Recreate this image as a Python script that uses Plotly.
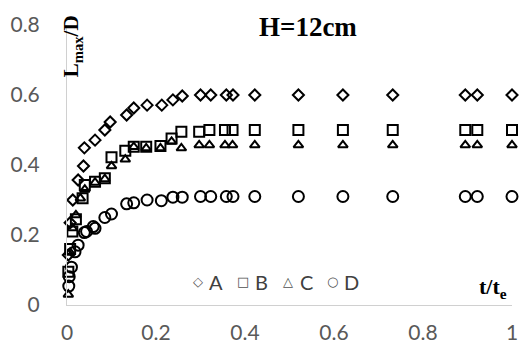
import plotly.graph_objects as go

# ---- data ----
x_A = [0.003, 0.007, 0.013, 0.025, 0.037, 0.039, 0.063, 0.085, 0.097, 0.134, 0.15, 0.18, 0.213, 0.238, 0.259,
       0.30, 0.323, 0.358, 0.373, 0.422, 0.52, 0.62, 0.732, 0.895, 0.922, 1.0]
y_A = [0.143, 0.235, 0.30, 0.357, 0.397, 0.449, 0.471, 0.50, 0.523, 0.543, 0.563, 0.571, 0.571, 0.586, 0.597,
       0.60, 0.60, 0.60, 0.60, 0.60, 0.60, 0.60, 0.60, 0.60, 0.60, 0.60]

x_B = [0.003, 0.007, 0.012, 0.02, 0.035, 0.04, 0.063, 0.085, 0.10, 0.131, 0.15, 0.178, 0.21, 0.235, 0.257,
       0.297, 0.32, 0.355, 0.372, 0.422, 0.52, 0.62, 0.732, 0.895, 0.922, 1.0]
y_B = [0.095, 0.16, 0.21, 0.245, 0.305, 0.343, 0.352, 0.362, 0.422, 0.441, 0.452, 0.452, 0.454, 0.476, 0.495,
       0.495, 0.50, 0.50, 0.50, 0.50, 0.50, 0.50, 0.50, 0.50, 0.50, 0.50]

x_C = [0.003, 0.007, 0.012, 0.02, 0.03, 0.04, 0.063, 0.085, 0.10, 0.131, 0.15, 0.178, 0.21, 0.235, 0.257,
       0.297, 0.32, 0.355, 0.372, 0.422, 0.52, 0.62, 0.732, 0.895, 0.922, 1.0]
y_C = [0.03, 0.15, 0.22, 0.257, 0.305, 0.33, 0.35, 0.36, 0.397, 0.416, 0.452, 0.448, 0.448, 0.467, 0.448,
       0.457, 0.457, 0.457, 0.457, 0.457, 0.457, 0.457, 0.457, 0.457, 0.457, 0.457]

x_D = [0.004, 0.005, 0.01, 0.018, 0.025, 0.039, 0.044, 0.059, 0.063, 0.085, 0.10, 0.134, 0.15, 0.18, 0.212,
       0.238, 0.259, 0.30, 0.323, 0.358, 0.373, 0.422, 0.52, 0.62, 0.732, 0.895, 0.922, 1.0]
y_D = [0.054, 0.081, 0.108, 0.152, 0.171, 0.207, 0.21, 0.224, 0.219, 0.25, 0.26, 0.289, 0.292, 0.30, 0.298,
       0.308, 0.308, 0.31, 0.31, 0.31, 0.31, 0.31, 0.31, 0.31, 0.31, 0.31, 0.31, 0.31]

series_names = ["A", "B", "C", "D"]
legend_glyphs = ["\u25C7", "\u25A1", "\u25B3", "\u25CB"]

series = [
    ("A", x_A, y_A, "diamond-open", 8.5),
    ("B", x_B, y_B, "square-open", 10),
    ("C", x_C, y_C, "triangle-up-open", 8.5),
    ("D", x_D, y_D, "circle-open", 11),
]

fig = go.Figure()
for name, xs, ys, sym, sz in series:
    fig.add_trace(go.Scatter(
        x=xs, y=ys, mode="markers", name=name, cliponaxis=False, showlegend=False,
        marker=dict(symbol=sym, size=sz, color="black", line=dict(width=2, color="black")),
    ))

tick_font = dict(family="Lato", size=21, color="#595959")

annotations = [
    dict(text="<b>H=12cm</b>", x=0.542, y=0.993, xref="paper", yref="paper",
         xanchor="center", yanchor="middle", showarrow=False,
         font=dict(family="Liberation Serif", size=27, color="black")),
    dict(text="<b>L<sub>max</sub>/D</b>", x=0.012, y=0.925, xref="paper", yref="paper",
         xanchor="center", yanchor="middle", showarrow=False, textangle=-90,
         font=dict(family="Liberation Serif", size=21, color="black")),
    dict(text="<b>t/t<sub>e</sub></b>", x=0.957, y=0.06, xref="paper", yref="paper",
         xanchor="center", yanchor="middle", showarrow=False,
         font=dict(family="Liberation Serif", size=22, color="black")),
]

# legend entries (symbol + label) placed in a row, like the reference
sym_px = [198, 243, 288, 332]
lab_px = [216, 261, 306, 351]
for g, n, sx, lx in zip(legend_glyphs, series_names, sym_px, lab_px):
    annotations.append(dict(text=g, x=(sx - 67) / 445, y=0.085, xref="paper", yref="paper",
                            xanchor="center", yanchor="middle", showarrow=False,
                            font=dict(family="DejaVu Sans", size=13, color="#505050")))
    annotations.append(dict(text=n, x=(lx - 67) / 445, y=0.082, xref="paper", yref="paper",
                            xanchor="center", yanchor="middle", showarrow=False,
                            font=dict(family="Lato", size=20, color="#404040")))

fig.update_layout(
    width=519, height=343,
    margin=dict(l=67, r=7, t=25, b=38, autoexpand=False),
    paper_bgcolor="white", plot_bgcolor="white",
    showlegend=False,
    xaxis=dict(range=[0, 1], dtick=0.2, tick0=0, showgrid=False, zeroline=False,
               showline=True, linecolor="#d0d0d0", linewidth=1, ticks="", automargin=False,
               tickfont=tick_font, ticklabelstandoff=9),
    yaxis=dict(range=[0, 0.8], dtick=0.2, tick0=0, showgrid=False, zeroline=False,
               showline=True, linecolor="#d0d0d0", linewidth=1, ticks="", automargin=False,
               tickfont=tick_font, ticklabelstandoff=22),
    annotations=annotations,
)

fig.write_html("out.html", config={"displayModeBar": False},
               post_script="document.body.style.margin='0';")
